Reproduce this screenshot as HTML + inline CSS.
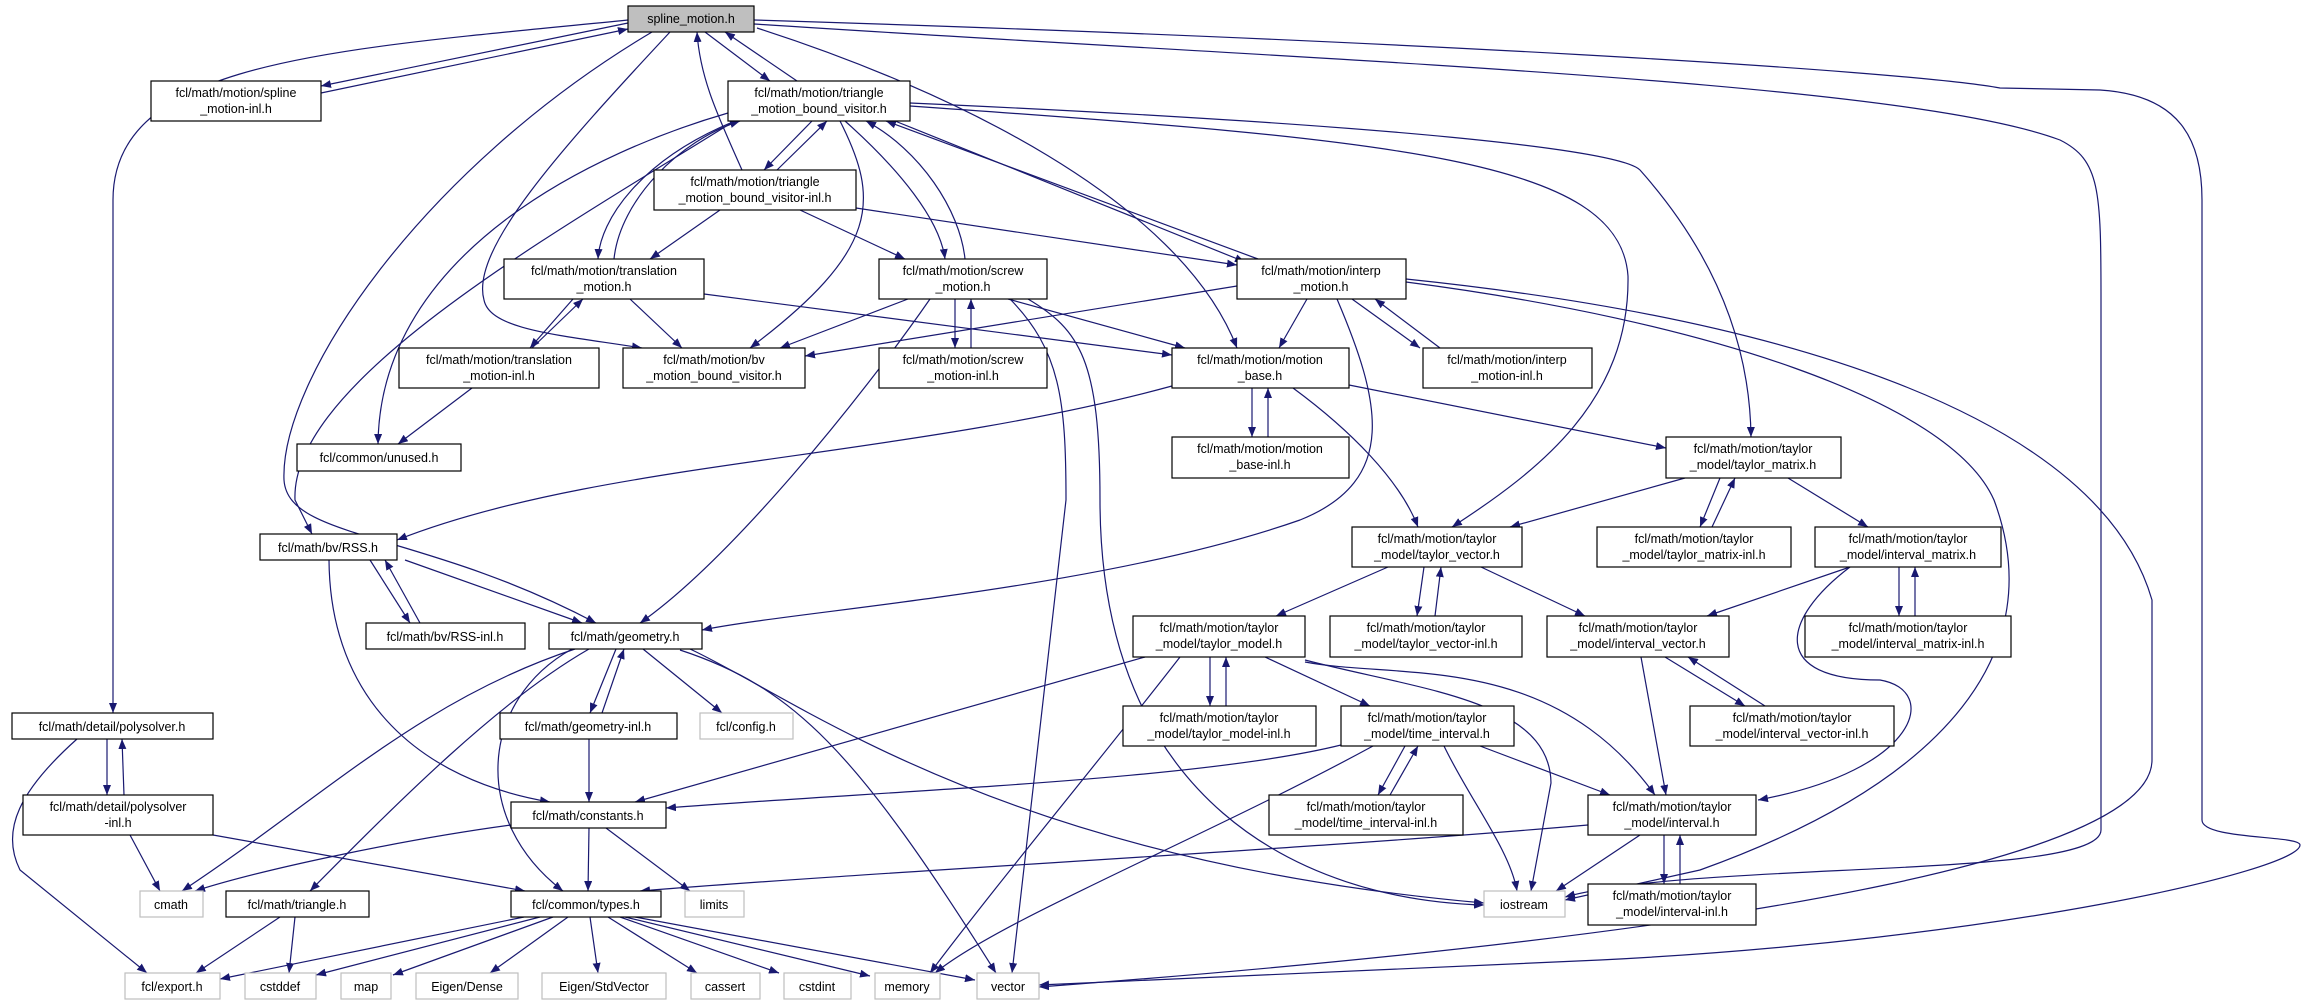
<!DOCTYPE html>
<html><head><meta charset="utf-8"><style>
html,body{margin:0;padding:0;background:#fff;}
svg{display:block;}
text{font-family:"Liberation Sans","DejaVu Sans",sans-serif;font-size:12.5px;fill:#000;text-anchor:middle;}
.n{fill:#fff;stroke:#000;stroke-width:1.2;}
.g{fill:#fff;stroke:#bfbfbf;stroke-width:1.2;}
.e{fill:none;stroke:#191970;stroke-width:1.2;marker-end:url(#a);}
</style></head><body>
<svg width="2308" height="1005" viewBox="0 0 2308 1005" xmlns="http://www.w3.org/2000/svg">
<defs><marker id="a" markerUnits="userSpaceOnUse" markerWidth="11" markerHeight="8" refX="10" refY="4" orient="auto"><path d="M0,0 L10,4 L0,8 z" fill="#191970"/></marker></defs>
<g>
<!-- edges -->
<path class="e" d="M628,23 L321,86"/>
<path class="e" d="M321,93 L628,29"/>
<path class="e" d="M628,20 C330,50 113,60 113,200 L113,713"/>
<path class="e" d="M652,32 C420,170 280,380 284,480 C288,540 420,530 596,623"/>
<path class="e" d="M670,32 C560,150 470,250 484,300 C490,330 560,335 642,348"/>
<path class="e" d="M757,28 C950,90 1180,200 1237,348"/>
<path class="e" d="M754,24 C1300,60 1900,80 2060,140 C2100,160 2101,190 2101,300 L2101,830 C2101,880 1700,860 1565,897"/>
<path class="e" d="M754,20 C1400,40 1900,70 2000,88 L2100,90 C2180,95 2202,140 2202,200 L2202,820 C2202,840 2300,835 2300,845 C2300,870 2000,940 1600,960 C1300,975 1100,982 1039,985"/>
<path class="e" d="M742,170 C720,120 700,80 697,32"/>
<path class="e" d="M705,32 L770,81"/>
<path class="e" d="M797,81 L725,32"/>
<path class="e" d="M812,121 L764,170"/>
<path class="e" d="M777,170 L827,121"/>
<path class="e" d="M735,121 C640,160 600,220 598,259"/>
<path class="e" d="M614,259 C620,200 680,140 740,121"/>
<path class="e" d="M845,121 C900,170 940,220 945,259"/>
<path class="e" d="M965,259 C960,210 920,150 866,121"/>
<path class="e" d="M895,121 L1245,262"/>
<path class="e" d="M1258,259 L886,121"/>
<path class="e" d="M840,121 C880,200 880,250 750,348"/>
<path class="e" d="M728,113 C600,150 380,250 378,444"/>
<path class="e" d="M736,120 C560,230 290,380 295,500 L312,534"/>
<path class="e" d="M910,106 C1400,140 1620,160 1628,276 C1630,400 1540,470 1452,527"/>
<path class="e" d="M910,103 C1400,125 1620,150 1640,170 C1720,260 1750,350 1751,437"/>
<path class="e" d="M720,210 L650,259"/>
<path class="e" d="M800,210 L905,259"/>
<path class="e" d="M856,208 L1237,265"/>
<path class="e" d="M573,299 L530,348"/>
<path class="e" d="M532,348 L583,299"/>
<path class="e" d="M630,299 L682,348"/>
<path class="e" d="M704,294 L1172,355"/>
<path class="e" d="M472,388 L398,444"/>
<path class="e" d="M955,299 L955,348"/>
<path class="e" d="M971,348 L971,299"/>
<path class="e" d="M908,299 L780,348"/>
<path class="e" d="M1008,299 L1185,348"/>
<path class="e" d="M930,299 C860,400 730,560 640,623"/>
<path class="e" d="M1010,299 C1060,350 1066,400 1066,500 L1012,973"/>
<path class="e" d="M1028,299 C1080,330 1100,360 1100,500 C1100,800 1300,900 1484,905"/>
<path class="e" d="M1352,299 L1420,348"/>
<path class="e" d="M1440,348 L1375,299"/>
<path class="e" d="M1237,286 L805,356"/>
<path class="e" d="M1307,299 L1279,348"/>
<path class="e" d="M1337,299 C1380,400 1400,480 1300,520 C1100,590 800,610 702,630"/>
<path class="e" d="M1406,282 C1700,320 1950,400 1994,500 C2050,650 1950,780 1700,870 L1565,900"/>
<path class="e" d="M1406,279 C1800,320 2100,420 2152,600 L2152,760 C2152,850 1800,930 1039,987"/>
<path class="e" d="M1252,388 L1252,437"/>
<path class="e" d="M1268,437 L1268,388"/>
<path class="e" d="M1172,386 C900,460 600,460 397,540"/>
<path class="e" d="M1293,388 C1350,430 1400,480 1418,527"/>
<path class="e" d="M1349,385 L1666,448"/>
<path class="e" d="M1685,478 L1510,527"/>
<path class="e" d="M1720,478 L1700,527"/>
<path class="e" d="M1712,527 L1735,478"/>
<path class="e" d="M1788,478 L1868,527"/>
<path class="e" d="M1388,567 L1276,616"/>
<path class="e" d="M1424,567 L1417,616"/>
<path class="e" d="M1435,616 L1441,567"/>
<path class="e" d="M1481,567 L1585,616"/>
<path class="e" d="M1850,567 L1707,616"/>
<path class="e" d="M1899,567 L1899,616"/>
<path class="e" d="M1915,616 L1915,567"/>
<path class="e" d="M1850,567 C1780,620 1770,680 1880,680 C1940,690 1920,770 1758,800"/>
<path class="e" d="M1210,657 L1210,706"/>
<path class="e" d="M1226,706 L1226,657"/>
<path class="e" d="M1265,657 L1370,706"/>
<path class="e" d="M1145,657 L635,802"/>
<path class="e" d="M1341,745 C1200,780 900,790 666,808"/>
<path class="e" d="M1180,657 C1100,760 1000,880 930,973"/>
<path class="e" d="M1305,660 C1420,690 1550,700 1551,783 L1531,891"/>
<path class="e" d="M1305,662 C1400,680 1550,650 1655,795"/>
<path class="e" d="M1405,746 L1378,795"/>
<path class="e" d="M1390,795 L1418,746"/>
<path class="e" d="M1444,746 C1470,800 1510,850 1517,891"/>
<path class="e" d="M1480,746 L1610,795"/>
<path class="e" d="M1373,746 C1200,840 1000,920 935,973"/>
<path class="e" d="M1641,657 L1666,795"/>
<path class="e" d="M1665,657 L1745,706"/>
<path class="e" d="M1765,706 L1688,657"/>
<path class="e" d="M1588,825 C1300,850 900,870 640,891"/>
<path class="e" d="M1640,835 L1556,891"/>
<path class="e" d="M1664,835 L1664,884"/>
<path class="e" d="M1680,884 L1680,835"/>
<path class="e" d="M370,560 L410,623"/>
<path class="e" d="M420,623 L385,560"/>
<path class="e" d="M405,560 L582,623"/>
<path class="e" d="M329,560 C330,700 420,780 550,802"/>
<path class="e" d="M616,649 L590,713"/>
<path class="e" d="M602,713 L624,649"/>
<path class="e" d="M643,649 L722,713"/>
<path class="e" d="M575,649 C420,700 320,800 182,891"/>
<path class="e" d="M589,649 C500,700 400,800 310,891"/>
<path class="e" d="M572,649 C480,700 470,820 563,891"/>
<path class="e" d="M690,649 C800,700 1000,860 1484,903"/>
<path class="e" d="M680,650 C793,687 856,750 996,973"/>
<path class="e" d="M589,739 L589,802"/>
<path class="e" d="M107,739 L107,795"/>
<path class="e" d="M124,795 L122,739"/>
<path class="e" d="M77,739 C20,790 0,830 20,870 L147,973"/>
<path class="e" d="M130,835 L160,891"/>
<path class="e" d="M213,835 L525,891"/>
<path class="e" d="M511,825 C400,840 260,870 195,891"/>
<path class="e" d="M589,828 L588,891"/>
<path class="e" d="M606,828 L690,891"/>
<path class="e" d="M280,917 L196,973"/>
<path class="e" d="M295,917 L289,973"/>
<path class="e" d="M524,917 L220,979"/>
<path class="e" d="M540,917 L316,975"/>
<path class="e" d="M553,917 L393,975"/>
<path class="e" d="M568,917 L490,973"/>
<path class="e" d="M590,917 L598,973"/>
<path class="e" d="M608,917 L697,973"/>
<path class="e" d="M620,917 L779,973"/>
<path class="e" d="M625,917 L870,976"/>
<path class="e" d="M635,917 L975,980"/>
</g>
<g>
<rect x="628" y="6" width="126" height="26" fill="#bfbfbf" stroke="#000" stroke-width="1.2"/><text x="691" y="23">spline_motion.h</text>
<rect class="n" x="151" y="81" width="170" height="40"/><text x="236" y="97">fcl/math/motion/spline</text><text x="236" y="113">_motion-inl.h</text>
<rect class="n" x="728" y="81" width="182" height="40"/><text x="819" y="97">fcl/math/motion/triangle</text><text x="819" y="113">_motion_bound_visitor.h</text>
<rect class="n" x="654" y="170" width="202" height="40"/><text x="755" y="186">fcl/math/motion/triangle</text><text x="755" y="202">_motion_bound_visitor-inl.h</text>
<rect class="n" x="504" y="259" width="200" height="40"/><text x="604" y="275">fcl/math/motion/translation</text><text x="604" y="291">_motion.h</text>
<rect class="n" x="879" y="259" width="168" height="40"/><text x="963" y="275">fcl/math/motion/screw</text><text x="963" y="291">_motion.h</text>
<rect class="n" x="1237" y="259" width="169" height="40"/><text x="1321" y="275">fcl/math/motion/interp</text><text x="1321" y="291">_motion.h</text>
<rect class="n" x="399" y="348" width="200" height="40"/><text x="499" y="364">fcl/math/motion/translation</text><text x="499" y="380">_motion-inl.h</text>
<rect class="n" x="623" y="348" width="182" height="40"/><text x="714" y="364">fcl/math/motion/bv</text><text x="714" y="380">_motion_bound_visitor.h</text>
<rect class="n" x="879" y="348" width="168" height="40"/><text x="963" y="364">fcl/math/motion/screw</text><text x="963" y="380">_motion-inl.h</text>
<rect class="n" x="1172" y="348" width="177" height="40"/><text x="1260" y="364">fcl/math/motion/motion</text><text x="1260" y="380">_base.h</text>
<rect class="n" x="1423" y="348" width="169" height="40"/><text x="1507" y="364">fcl/math/motion/interp</text><text x="1507" y="380">_motion-inl.h</text>
<rect class="n" x="297" y="444" width="164" height="27"/><text x="379" y="462">fcl/common/unused.h</text>
<rect class="n" x="1172" y="437" width="177" height="41"/><text x="1260" y="453">fcl/math/motion/motion</text><text x="1260" y="469">_base-inl.h</text>
<rect class="n" x="1666" y="437" width="175" height="41"/><text x="1753" y="453">fcl/math/motion/taylor</text><text x="1753" y="469">_model/taylor_matrix.h</text>
<rect class="n" x="1352" y="527" width="170" height="40"/><text x="1437" y="543">fcl/math/motion/taylor</text><text x="1437" y="559">_model/taylor_vector.h</text>
<rect class="n" x="1597" y="527" width="194" height="40"/><text x="1694" y="543">fcl/math/motion/taylor</text><text x="1694" y="559">_model/taylor_matrix-inl.h</text>
<rect class="n" x="1815" y="527" width="186" height="40"/><text x="1908" y="543">fcl/math/motion/taylor</text><text x="1908" y="559">_model/interval_matrix.h</text>
<rect class="n" x="260" y="534" width="137" height="26"/><text x="328" y="552">fcl/math/bv/RSS.h</text>
<rect class="n" x="1133" y="616" width="172" height="41"/><text x="1219" y="632">fcl/math/motion/taylor</text><text x="1219" y="648">_model/taylor_model.h</text>
<rect class="n" x="1330" y="616" width="192" height="41"/><text x="1426" y="632">fcl/math/motion/taylor</text><text x="1426" y="648">_model/taylor_vector-inl.h</text>
<rect class="n" x="1547" y="616" width="182" height="41"/><text x="1638" y="632">fcl/math/motion/taylor</text><text x="1638" y="648">_model/interval_vector.h</text>
<rect class="n" x="1805" y="616" width="206" height="41"/><text x="1908" y="632">fcl/math/motion/taylor</text><text x="1908" y="648">_model/interval_matrix-inl.h</text>
<rect class="n" x="366" y="623" width="159" height="26"/><text x="445" y="641">fcl/math/bv/RSS-inl.h</text>
<rect class="n" x="549" y="623" width="153" height="26"/><text x="625" y="641">fcl/math/geometry.h</text>
<rect class="n" x="1123" y="706" width="193" height="40"/><text x="1219" y="722">fcl/math/motion/taylor</text><text x="1219" y="738">_model/taylor_model-inl.h</text>
<rect class="n" x="1341" y="706" width="173" height="40"/><text x="1427" y="722">fcl/math/motion/taylor</text><text x="1427" y="738">_model/time_interval.h</text>
<rect class="n" x="1690" y="706" width="204" height="40"/><text x="1792" y="722">fcl/math/motion/taylor</text><text x="1792" y="738">_model/interval_vector-inl.h</text>
<rect class="n" x="12" y="713" width="201" height="26"/><text x="112" y="731">fcl/math/detail/polysolver.h</text>
<rect class="n" x="500" y="713" width="177" height="26"/><text x="588" y="731">fcl/math/geometry-inl.h</text>
<rect class="g" x="700" y="713" width="93" height="26"/><text x="746" y="731">fcl/config.h</text>
<rect class="n" x="23" y="795" width="190" height="40"/><text x="118" y="811">fcl/math/detail/polysolver</text><text x="118" y="827">-inl.h</text>
<rect class="n" x="511" y="802" width="155" height="26"/><text x="588" y="820">fcl/math/constants.h</text>
<rect class="n" x="1269" y="795" width="194" height="40"/><text x="1366" y="811">fcl/math/motion/taylor</text><text x="1366" y="827">_model/time_interval-inl.h</text>
<rect class="n" x="1588" y="795" width="168" height="40"/><text x="1672" y="811">fcl/math/motion/taylor</text><text x="1672" y="827">_model/interval.h</text>
<rect class="g" x="140" y="891" width="63" height="26"/><text x="171" y="909">cmath</text>
<rect class="n" x="226" y="891" width="143" height="26"/><text x="297" y="909">fcl/math/triangle.h</text>
<rect class="n" x="511" y="891" width="150" height="26"/><text x="586" y="909">fcl/common/types.h</text>
<rect class="g" x="685" y="891" width="59" height="26"/><text x="714" y="909">limits</text>
<rect class="g" x="1484" y="891" width="81" height="26"/><text x="1524" y="909">iostream</text>
<rect class="n" x="1588" y="884" width="168" height="41"/><text x="1672" y="900">fcl/math/motion/taylor</text><text x="1672" y="916">_model/interval-inl.h</text>
<rect class="g" x="125" y="973" width="95" height="26"/><text x="172" y="991">fcl/export.h</text>
<rect class="g" x="245" y="973" width="71" height="26"/><text x="280" y="991">cstddef</text>
<rect class="g" x="341" y="973" width="50" height="26"/><text x="366" y="991">map</text>
<rect class="g" x="416" y="973" width="102" height="26"/><text x="467" y="991">Eigen/Dense</text>
<rect class="g" x="542" y="973" width="124" height="26"/><text x="604" y="991">Eigen/StdVector</text>
<rect class="g" x="691" y="973" width="69" height="26"/><text x="725" y="991">cassert</text>
<rect class="g" x="784" y="973" width="67" height="26"/><text x="817" y="991">cstdint</text>
<rect class="g" x="875" y="973" width="65" height="26"/><text x="907" y="991">memory</text>
<rect class="g" x="977" y="973" width="62" height="26"/><text x="1008" y="991">vector</text>
</g>
</svg>
</body></html>
